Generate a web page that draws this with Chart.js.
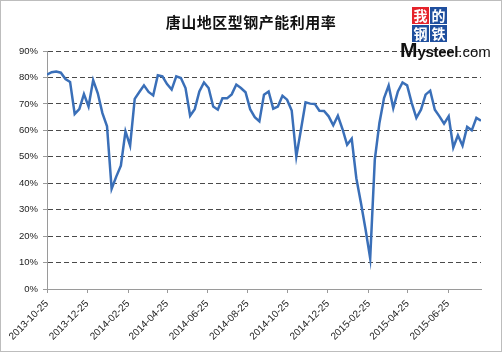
<!DOCTYPE html>
<html>
<head>
<meta charset="utf-8">
<script src="https://cdn.jsdelivr.net/npm/chart.js@4/dist/chart.umd.min.js"></script>
<style>
  html, body { margin: 0; padding: 0; background: #fff; }
  #wrap { position: relative; width: 500px; height: 350px; border: 1px solid #bdbdbd; background: #fff; }
  #title { position: absolute; left: 0; width: 500px; top: 10px; text-align: center;
    font: bold 15px "Noto Sans CJK SC", sans-serif; color: #111; letter-spacing: 0.5px; }
  #logo { position: absolute; left: 411px; top: 6px; width: 36px; }
  #logo span { display: inline-block; width: 17px; height: 17px; margin: 0 1px 1px 0; color: #fff;
    font: bold 14px/17px "Noto Sans CJK SC", sans-serif; text-align: center; background: #1f4f9e; vertical-align: top; }
  #logo span.red { background: #e5232b; }
  #brand { position: absolute; left: 399px; top: 37px; white-space: nowrap; color: #111; font-family: "Liberation Sans", Arial, sans-serif; }
  #brand .m { font-size: 21px; font-weight: bold; }
  #brand .s { font-size: 15px; font-weight: bold; letter-spacing: -0.3px; }
  #brand .c { font-size: 15px; }
</style>
</head>
<body>
<div id="wrap">
  <canvas id="chart" width="500" height="350"></canvas>
  <div id="title">唐山地区型钢产能利用率</div>
  <div id="logo"><span class="red">我</span><span>的</span><span>钢</span><span>铁</span></div>
  <div id="brand"><span class="m">M</span><span class="s">ysteel</span><span class="c">.com</span></div>
</div>
<script>
  // --- Data (weekly, starting 2013-10-25) ---
  const startDate = '2013-10-25';
  const tickDates = ['2013-10-25', '2013-12-25', '2014-02-25', '2014-04-25', '2014-06-25', '2014-08-25',
    '2014-10-25', '2014-12-25', '2015-02-25', '2015-04-25', '2015-06-25'];
  const utilization = [
    81.1, 82.0, 82.2, 81.8, 79.4, 78.3, 66.2, 68.0, 73.7, 69.0,
    79.0, 74.0, 66.5, 61.5, 37.9, 42.5, 46.6, 59.6, 54.2, 71.9,
    74.5, 77.0, 74.5, 73.2, 80.8, 80.4, 77.5, 75.4, 80.4, 79.8,
    76.0, 65.5, 68.0, 74.7, 78.1, 76.0, 69.0, 67.8, 72.1, 72.1,
    73.6, 77.3, 76.0, 74.4, 68.0, 65.0, 63.4, 73.5, 74.7, 68.2,
    69.0, 73.1, 71.6, 67.5, 50.1, 60.2, 70.6, 70.1, 70.0, 67.4,
    67.3, 65.3, 61.9, 65.5, 60.5, 54.5, 56.8, 41.9, 32.5, 22.5,
    11.6, 48.9, 62.8, 72.2, 76.9, 68.4, 74.7, 78.1, 77.0, 70.3,
    64.7, 67.8, 73.5, 75.0, 67.8, 65.3, 62.5, 65.3, 53.5, 58.1,
    54.2, 61.3, 60.0, 64.7, 63.6
  ];

  const DAY = 86400000;
  const dayOffset = d => Math.round((Date.parse(d) - Date.parse(startDate)) / DAY);
  const points = utilization.map((v, i) => ({ x: i * 7, y: v }));
  const lastDay = (utilization.length - 1) * 7;

  const ctx = document.getElementById('chart').getContext('2d');
  new Chart(ctx, {
    type: 'line',
    data: {
      datasets: [{
        data: points,
        borderColor: '#3a6fb8',
        borderWidth: 2.5,
        pointRadius: 0,
        tension: 0,
        fill: false
      }]
    },
    options: {
      responsive: false,
      animation: false,
      layout: { padding: { top: 50, right: 20, left: 0, bottom: 0 } },
      plugins: { legend: { display: false }, tooltip: { enabled: false } },
      scales: {
        x: {
          type: 'linear',
          min: 0,
          max: lastDay,
          afterBuildTicks: axis => {
            axis.ticks = tickDates.map(d => ({ value: dayOffset(d) }));
          },
          afterFit: axis => { axis.height = 62; },
          ticks: {
            autoSkip: false,
            minRotation: 45,
            maxRotation: 45,
            padding: 5,
            color: '#222',
            font: { family: '"Liberation Sans", Arial, sans-serif', size: 10 },
            callback: (v) => tickDates.find(d => dayOffset(d) === v) || ''
          },
          grid: { drawOnChartArea: false, tickLength: 4, color: '#9a9a9a' },
          border: { color: '#9a9a9a', width: 1 }
        },
        y: {
          min: 0,
          max: 90,
          afterFit: axis => { axis.width = 46; },
          ticks: {
            stepSize: 10,
            padding: 5,
            color: '#222',
            font: { family: '"Liberation Sans", Arial, sans-serif', size: 9.5 },
            callback: v => v + '%'
          },
          grid: { color: '#4a4a4a', lineWidth: 1, tickLength: 4, tickColor: '#9a9a9a', tickBorderDash: [] },
          border: { color: '#9a9a9a', width: 1, dash: [5, 3] }
        }
      }
    }
  });
</script>
</body>
</html>
